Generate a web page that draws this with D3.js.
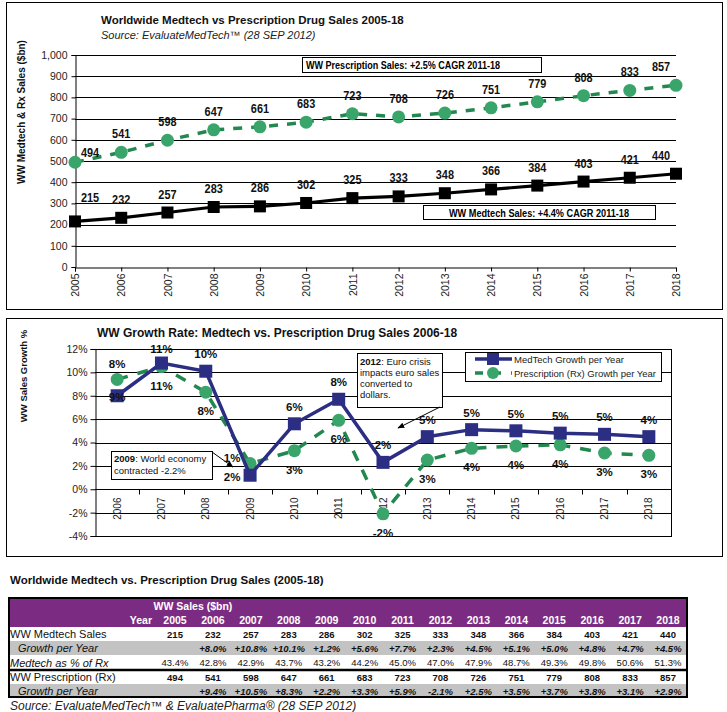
<!DOCTYPE html>
<html><head><meta charset="utf-8">
<script src="https://cdn.jsdelivr.net/npm/d3@7"></script>
<style>
body{margin:0;background:#fff;}
svg{display:block;font-family:"Liberation Sans",Arial,Helvetica,sans-serif;}
</style></head><body>
<svg id="c" width="727" height="712"></svg>
<script>
// ---------- DATA ----------
const years = [2005,2006,2007,2008,2009,2010,2011,2012,2013,2014,2015,2016,2017,2018];
const medtechSales = [215,232,257,283,286,302,325,333,348,366,384,403,421,440];
const rxSales = [494,541,598,647,661,683,723,708,726,751,779,808,833,857];
const salesTicks = [0,100,200,300,400,500,600,700,800,900,1000];

const growthYears = [2006,2007,2008,2009,2010,2011,2012,2013,2014,2015,2016,2017,2018];
const medtechGrowth = [8.0,10.8,10.1,1.2,5.6,7.7,2.3,4.5,5.1,5.0,4.8,4.7,4.5];
const rxGrowth = [9.4,10.5,8.3,2.2,3.3,5.9,-2.1,2.5,3.5,3.7,3.8,3.1,2.9];
const medtechGrowthLabels = ["9%","11%","10%","2%","6%","8%","2%","5%","5%","5%","5%","5%","4%"];
const rxGrowthLabels = ["8%","11%","8%","1%","3%","6%","-2%","3%","4%","4%","4%","3%","3%"];
const growthTicks = [-4,-2,0,2,4,6,8,10,12];

const medtechShareOfRx = [43.4,42.8,42.9,43.7,43.2,44.2,45.0,47.0,47.9,48.7,49.3,49.8,50.6,51.3];

// ---------- STYLE ----------
const NAVY = "#2b2e83", GREEN_LINE = "#23884f", GREEN_DOT = "#3aa56a", PURPLE = "#7b2c82", GREY = "#c3c3c3";

const svg = d3.select("#c");
svg.append("defs").append("marker").attr("id","arr").attr("viewBox","0 0 10 10")
  .attr("refX",9).attr("refY",5).attr("markerWidth",7).attr("markerHeight",7).attr("orient","auto")
  .append("path").attr("d","M0,1 L10,5 L0,9 Z").attr("fill","#000");

// panels
svg.append("rect").attr("x",6.5).attr("y",2.5).attr("width",716).attr("height",307).attr("fill","none").attr("stroke","#000");
svg.append("rect").attr("x",6.5).attr("y",318.5).attr("width",716).attr("height",238).attr("fill","none").attr("stroke","#000");

// ================= TOP CHART =================
const x1 = d3.scalePoint().domain(years).range([75,676]);
const y1 = d3.scaleLinear().domain([0,1000]).range([267,55]);
const g1 = svg.append("g");

g1.append("text").attr("x",101).attr("y",24).attr("font-size",11.5).attr("font-weight","bold").attr("fill","#111")
  .text("Worldwide Medtech vs Prescription Drug Sales 2005-18");
g1.append("text").attr("x",101).attr("y",39).attr("font-size",11).attr("font-style","italic").attr("fill","#222")
  .text("Source: EvaluateMedTech\u2122 (28 SEP 2012)");
g1.append("text").attr("transform","translate(25,112) rotate(-90)").attr("text-anchor","middle")
  .attr("font-size",10).attr("font-weight","bold").attr("fill","#111").text("WW Medtech & Rx Sales ($bn)");

g1.selectAll("line.grid").data(salesTicks.filter(d=>d>0)).join("line")
  .attr("x1",75).attr("x2",676).attr("y1",d=>Math.round(y1(d))+0.5).attr("y2",d=>Math.round(y1(d))+0.5)
  .attr("stroke","#000").attr("stroke-width",1);

const ya1 = g1.append("g").attr("transform","translate(75.5,0)")
  .call(d3.axisLeft(y1).tickValues(salesTicks).tickSize(4).tickPadding(4).tickFormat(d3.format(",")));
ya1.selectAll("text").attr("font-size",10.5).attr("fill","#222").attr("font-family","'Liberation Sans',Arial,sans-serif");
ya1.selectAll("path,line").attr("stroke","#000");

const xa1 = g1.append("g").attr("transform","translate(0,267.5)")
  .call(d3.axisBottom(x1).tickSize(4).tickFormat(d=>String(d)));
xa1.selectAll("path,line").attr("stroke","#000");
xa1.selectAll("text").attr("transform","rotate(-90)").attr("x",-6).attr("y",0).attr("dy","0.35em")
  .attr("text-anchor","end").attr("font-size",10.5).attr("fill","#222").attr("font-family","'Liberation Sans',Arial,sans-serif");

// boxes
g1.append("rect").attr("x",302.5).attr("y",57.5).attr("width",239).attr("height",15).attr("fill","#fff").attr("stroke","#000");
g1.append("text").attr("x",306).attr("y",69).attr("font-size",11).attr("font-weight","bold")
  .attr("textLength",194).attr("lengthAdjust","spacingAndGlyphs")
  .text("WW Prescription Sales: +2.5% CAGR 2011-18");
g1.append("rect").attr("x",423.5).attr("y",205.5).attr("width",232).attr("height",14).attr("fill","#fff").attr("stroke","#000");
g1.append("text").attr("x",449).attr("y",216.5).attr("font-size",11).attr("font-weight","bold")
  .attr("textLength",180).attr("lengthAdjust","spacingAndGlyphs")
  .text("WW Medtech Sales: +4.4% CAGR 2011-18");

// series
const line1 = d3.line().x((d,i)=>x1(years[i])).y(d=>y1(d));
g1.append("path").datum(rxSales).attr("d",line1).attr("fill","none").attr("stroke",GREEN_LINE)
  .attr("stroke-width",3.5).attr("stroke-dasharray","9,9");
g1.selectAll("circle.rx").data(rxSales).join("circle").attr("cx",(d,i)=>x1(years[i])).attr("cy",d=>y1(d))
  .attr("r",6.5).attr("fill",GREEN_DOT);
g1.append("path").datum(medtechSales).attr("d",line1).attr("fill","none").attr("stroke","#000").attr("stroke-width",3.2);
g1.selectAll("rect.mt").data(medtechSales).join("rect").attr("x",(d,i)=>x1(years[i])-6).attr("y",d=>y1(d)-6)
  .attr("width",12).attr("height",12).attr("fill","#000");

// labels (narrowed bold)
const edgeDx = i => i===0 ? 15 : (i===years.length-1 ? -15 : 0);
g1.selectAll("text.mtl").data(medtechSales).join("text")
  .attr("transform",(d,i)=>`translate(${x1(years[i])+edgeDx(i)},${y1(d)-(i===0?19:14)}) scale(0.84,1)`)
  .attr("text-anchor","middle").attr("font-size",13).attr("font-weight","bold").attr("fill","#111")
  .text(d=>d);
g1.selectAll("text.rxl").data(rxSales).join("text")
  .attr("transform",(d,i)=>`translate(${x1(years[i])+edgeDx(i)},${y1(d)-(i===0?5:14)}) scale(0.84,1)`)
  .attr("text-anchor","middle").attr("font-size",13).attr("font-weight","bold").attr("fill","#111")
  .text(d=>d);

// ================= BOTTOM CHART =================
const x2 = d3.scaleBand().domain(growthYears).range([95,671]);
const y2 = d3.scaleLinear().domain([-4,12]).range([536,349]);
const cx2 = d => x2(d) + x2.bandwidth()/2;
const g2 = svg.append("g");

g2.append("text").attr("x",97).attr("y",337).attr("font-size",12).attr("font-weight","bold").attr("fill","#111")
  .text("WW Growth Rate: Medtech vs. Prescription Drug Sales 2006-18");
g2.append("text").attr("transform","translate(27,376) rotate(-90)").attr("text-anchor","middle")
  .attr("font-size",9.5).attr("font-weight","bold").attr("fill","#111").text("WW Sales Growth %");

g2.selectAll("line.grid").data(growthTicks).join("line")
  .attr("x1",95).attr("x2",671).attr("y1",d=>Math.round(y2(d))+0.5).attr("y2",d=>Math.round(y2(d))+0.5)
  .attr("stroke","#000");
g2.append("line").attr("x1",671.5).attr("x2",671.5).attr("y1",y2(12)).attr("y2",y2(-4)+1).attr("stroke","#000");

const ya2 = g2.append("g").attr("transform","translate(95.5,0)")
  .call(d3.axisLeft(y2).tickValues(growthTicks).tickSize(5).tickPadding(3).tickFormat(d=>d+"%"));
ya2.selectAll("path,line").attr("stroke","#000");
ya2.selectAll("text").attr("font-size",10.5).attr("fill","#222").attr("font-family","'Liberation Sans',Arial,sans-serif");

// category ticks on zero line
const zeroY = Math.round(y2(0))+0.5;
g2.selectAll("line.ct").data(growthYears.slice(1)).join("line")
  .attr("x1",d=>Math.round(x2(d))+0.5).attr("x2",d=>Math.round(x2(d))+0.5).attr("y1",zeroY).attr("y2",zeroY+5).attr("stroke","#000");
g2.selectAll("text.yr").data(growthYears).join("text")
  .attr("transform",d=>`translate(${cx2(d)},${zeroY+8}) rotate(-90)`).attr("dy","0.35em").attr("text-anchor","end")
  .attr("font-size",10).attr("fill","#222").text(d=>d);

// annotation boxes
g2.append("rect").attr("x",357.5).attr("y",353.5).attr("width",85).attr("height",54).attr("fill","#fff").attr("stroke","#000");
const ann = g2.append("text").attr("font-size",9.5).attr("fill","#111");
ann.append("tspan").attr("x",360).attr("y",364.5).attr("font-weight","bold").text("2012");
ann.append("tspan").text(": Euro crisis");
ann.append("tspan").attr("x",360).attr("y",375.5).text("impacts euro sales");
ann.append("tspan").attr("x",360).attr("y",386.5).text("converted to");
ann.append("tspan").attr("x",360).attr("y",397.5).text("dollars.");
g2.append("line").attr("x1",440).attr("y1",407).attr("x2",398).attr("y2",428).attr("stroke","#000").attr("marker-end","url(#arr)");

g2.append("rect").attr("x",111.5).attr("y",451.5).attr("width",101).attr("height",28).attr("fill","#fff").attr("stroke","#000");
const ann2 = g2.append("text").attr("font-size",9.5).attr("fill","#111");
ann2.append("tspan").attr("x",114).attr("y",462).attr("font-weight","bold").text("2009");
ann2.append("tspan").text(": World economy");
ann2.append("tspan").attr("x",114).attr("y",474).text("contracted -2.2%");
g2.append("line").attr("x1",212).attr("y1",452).attr("x2",233).attr("y2",467).attr("stroke","#000").attr("marker-end","url(#arr)");

// legend
g2.append("rect").attr("x",465.5).attr("y",352.5).attr("width",196).attr("height",29).attr("fill","#fff").attr("stroke","#000");
g2.append("line").attr("x1",475).attr("x2",512).attr("y1",359).attr("y2",359).attr("stroke",NAVY).attr("stroke-width",3.5);
g2.append("rect").attr("x",487).attr("y",353).attr("width",12).attr("height",12).attr("fill",NAVY);
g2.append("text").attr("x",514).attr("y",362.5).attr("font-size",9.5).attr("fill","#222").text("MedTech Growth per Year");
g2.append("line").attr("x1",475).attr("x2",512).attr("y1",373).attr("y2",373).attr("stroke",GREEN_LINE).attr("stroke-width",3.5).attr("stroke-dasharray","8,10");
g2.append("circle").attr("cx",493).attr("cy",373).attr("r",6).attr("fill",GREEN_DOT);
g2.append("text").attr("x",514).attr("y",376.5).attr("font-size",9.5).attr("fill","#222").text("Prescription (Rx) Growth per Year");

// series
const line2 = d3.line().x((d,i)=>cx2(growthYears[i])).y(d=>y2(d));
g2.append("path").datum(rxGrowth).attr("d",line2).attr("fill","none").attr("stroke",GREEN_LINE)
  .attr("stroke-width",3.5).attr("stroke-dasharray","11,10");
g2.selectAll("circle.rx").data(rxGrowth).join("circle").attr("cx",(d,i)=>cx2(growthYears[i])).attr("cy",d=>y2(d))
  .attr("r",6.5).attr("fill",GREEN_DOT);
g2.append("path").datum(medtechGrowth).attr("d",line2).attr("fill","none").attr("stroke",NAVY).attr("stroke-width",3.5);
g2.selectAll("rect.mt").data(medtechGrowth).join("rect").attr("x",(d,i)=>cx2(growthYears[i])-6.5).attr("y",d=>y2(d)-6.5)
  .attr("width",13).attr("height",13).attr("fill",NAVY);

// label placement (style/position config)
const mtPlace = i => i===0 ? [0,1] : (i===3 ? [-18,2] : (i===1 ? [0,-14] : [0,-17]));
const rxPlace = i => i===0 ? [0,-15] : (i===3 ? [-18,-6] : [0,19]);
g2.selectAll("text.mtl").data(medtechGrowthLabels).join("text")
  .attr("x",(d,i)=>cx2(growthYears[i])+mtPlace(i)[0]).attr("y",(d,i)=>y2(medtechGrowth[i])+mtPlace(i)[1])
  .attr("dy","0.35em").attr("text-anchor","middle").attr("font-size",11.5).attr("font-weight","bold").attr("fill","#111").text(d=>d);
g2.selectAll("text.rxl").data(rxGrowthLabels).join("text")
  .attr("x",(d,i)=>cx2(growthYears[i])+rxPlace(i)[0]).attr("y",(d,i)=>y2(rxGrowth[i])+rxPlace(i)[1])
  .attr("dy","0.35em").attr("text-anchor","middle").attr("font-size",11.5).attr("font-weight","bold").attr("fill","#111").text(d=>d);

// ================= TABLE =================
const g3 = svg.append("g");
g3.append("text").attr("x",10).attr("y",583.5).attr("font-size",11.5).attr("font-weight","bold").attr("fill","#111")
  .text("Worldwide Medtech vs. Prescription Drug Sales (2005-18)");
const tx = d3.scalePoint().domain(years).range([175,668]);
const tL = 9, tR = 687, tT = 598, tB = 697;
g3.append("rect").attr("x",tL).attr("y",tT).attr("width",tR-tL).attr("height",29).attr("fill",PURPLE);
g3.append("rect").attr("x",tL).attr("y",641).attr("width",tR-tL).attr("height",14).attr("fill",GREY);
g3.append("rect").attr("x",tL).attr("y",684).attr("width",tR-tL).attr("height",13).attr("fill",GREY);
g3.append("line").attr("x1",tL).attr("x2",tR).attr("y1",670).attr("y2",670).attr("stroke","#000").attr("stroke-width",2.5);
g3.append("rect").attr("x",tL).attr("y",tT).attr("width",tR-tL).attr("height",tB-tT).attr("fill","none").attr("stroke","#000").attr("stroke-width",2);

g3.append("text").attr("x",193).attr("y",609.5).attr("text-anchor","middle").attr("font-size",10.5).attr("font-weight","bold").attr("fill","#fff").text("WW Sales ($bn)");
g3.append("text").attr("x",152).attr("y",624).attr("text-anchor","end").attr("font-size",10.5).attr("font-weight","bold").attr("fill","#fff").text("Year");
g3.selectAll("text.hy").data(years).join("text").attr("x",d=>tx(d)).attr("y",624).attr("text-anchor","middle")
  .attr("font-size",10.5).attr("font-weight","bold").attr("fill","#fff").text(d=>d);

const rowLabel = (txt,x,y,italic) => g3.append("text").attr("x",x).attr("y",y).attr("font-size",11)
  .attr("font-style",italic?"italic":"normal").attr("fill","#111").text(txt);
rowLabel("WW Medtech Sales",10,638,false);
rowLabel("Growth per Year",18,652,true);
rowLabel("Medtech as % of Rx",10,666.5,true);
rowLabel("WW Prescription (Rx)",10,681,false);
rowLabel("Growth per Year",18,695,true);

const cell = (vals,y,fmt,weight,style) => g3.selectAll(null).data(vals).join("text")
  .attr("x",(d,i)=>tx(years[i])).attr("y",y).attr("text-anchor","middle").attr("font-size",9.5)
  .attr("font-weight",weight).attr("font-style",style).attr("fill","#111").text(fmt);
const fmtG = d => (d>0?"+":"") + d.toFixed(1) + "%";
cell(medtechSales,637.5,d=>d,"bold","normal");
g3.selectAll(null).data(medtechGrowth).join("text").attr("x",(d,i)=>tx(growthYears[i])).attr("y",651.5)
  .attr("text-anchor","middle").attr("font-size",9.5).attr("font-weight","bold").attr("font-style","italic").attr("fill","#111").text(fmtG);
cell(medtechShareOfRx,666,d=>d.toFixed(1)+"%","normal","normal");
cell(rxSales,681,d=>d,"bold","normal");
g3.selectAll(null).data(rxGrowth).join("text").attr("x",(d,i)=>tx(growthYears[i])).attr("y",694.5)
  .attr("text-anchor","middle").attr("font-size",9.5).attr("font-weight","bold").attr("font-style","italic").attr("fill","#111").text(fmtG);

g3.append("text").attr("x",10).attr("y",709.5).attr("font-size",12).attr("font-style","italic").attr("fill","#222")
  .text("Source: EvaluateMedTech\u2122 & EvaluatePharma\u00ae (28 SEP 2012)");
</script>
</body></html>
